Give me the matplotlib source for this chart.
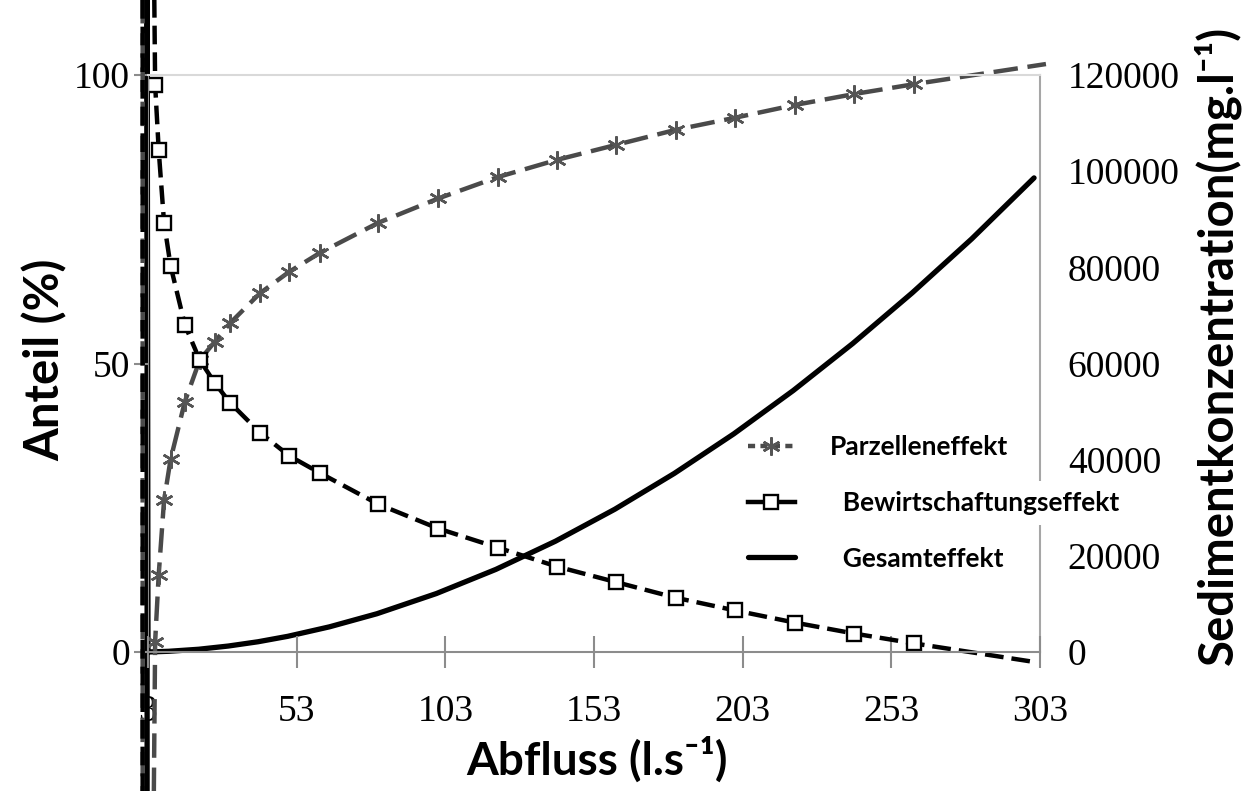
import matplotlib
matplotlib.use("Agg")
import matplotlib.pyplot as plt
from matplotlib.lines import Line2D

plt.rcParams['font.family'] = ['Liberation Serif', 'DejaVu Serif']
sans = ['Lato', 'DejaVu Sans']

# measured points (Abfluss in l/s)
x_pts = [5.4, 6.6, 8.4, 10.6, 15.4, 20.4, 25.5, 30.6, 40.7, 50.5, 60.9,
         80.5, 100.6, 120.6, 140.6, 160.5, 180.5, 200.5, 220.5, 240.5, 260.5]
parz_y = [1.8, 13.4, 26.3, 33.4, 43.4, 50.6, 53.8, 57.0, 62.2, 65.9, 69.2,
          74.4, 78.6, 82.3, 85.3, 87.9, 90.5, 92.6, 94.8, 96.7, 98.4]
bew_y = [98.3, 87.0, 74.4, 66.9, 56.7, 50.6, 46.6, 43.2, 38.0, 34.0, 31.0,
         25.6, 21.4, 18.1, 14.8, 12.1, 9.4, 7.2, 5.1, 3.2, 1.5]

# trend lines as drawn in the original (they shoot off near x = 3)
parz_line_x = [1.2, 1.2, 4.7] + x_pts + [305]
parz_line_y = [130, -40, -40] + parz_y + [101.9]
bew_line_x = [1.2, 1.2, 4.8] + x_pts + [302]
bew_line_y = [-40, 130, 130] + bew_y + [-1.8]

# Gesamteffekt, right axis (mg/l)
ges_x = [2.7, 2.7, 3, 10, 20, 30, 40, 50, 64, 80, 100, 120, 140, 160, 180,
         200, 220, 240, 260, 280, 301]
ges_y = [-50000, 150000, 0, 150, 570, 1240, 2130, 3260, 5230, 7960, 12160,
         17180, 23030, 29690, 37140, 45360, 54370, 64150, 74680, 85900, 98600]

x_ticks = [3, 53, 103, 153, 203, 253, 303]

W, H = 1249, 791
fig = plt.figure(figsize=(W / 100, H / 100), dpi=100)
ax = fig.add_axes([148 / W, 1 - 652 / H, (1040 - 148) / W, (652 - 75) / H])
ax2 = ax.twinx()
ax.set_zorder(ax2.get_zorder() + 1)
ax.patch.set_visible(False)

gray = '#4a4a4a'
ax2.plot(ges_x, ges_y, color='black', lw=3.8, clip_on=False, solid_capstyle='round')

ax.plot(parz_line_x, parz_line_y, color=gray, lw=3.2, dashes=(5.5, 2.2), clip_on=False)
ax.plot(x_pts, parz_y, ls='none', marker=(6, 2, 0), ms=13, mec='#555555', mew=1.8)
ax.plot(bew_line_x, bew_line_y, color='black', lw=3.2, dashes=(4.2, 1.8), clip_on=False)
ax.plot(x_pts, bew_y, ls='none', marker='s', ms=10, mfc='white', mec='black', mew=1.7)

ax.set_xlim(3, 303)
ax.set_ylim(0, 100)
ax2.set_ylim(0, 120000)
ax.set_xticks(x_ticks)
ax.set_yticks([0, 50, 100])
ax2.set_yticks(range(0, 120001, 20000))

for s in ['left', 'top', 'right', 'bottom']:
    ax2.spines[s].set_visible(False)
ax2.spines['right'].set_visible(True)
ax2.spines['right'].set_color('#a6a6a6')
ax2.spines['right'].set_linewidth(1.5)
ax.spines['right'].set_visible(False)
ax.spines['top'].set_color('#d9d9d9')
ax.spines['top'].set_linewidth(1.5)
ax.spines['bottom'].set_color('#8c8c8c')
ax.spines['bottom'].set_linewidth(1.5)
ax.spines['left'].set_color('#8c8c8c')

ax.tick_params(axis='x', direction='inout', length=23, width=1.5, color='#8c8c8c',
               pad=19, labelsize=27)
ax.tick_params(axis='y', direction='out', length=10, width=1.5, color='#8c8c8c',
               pad=3, labelsize=27)
ax2.tick_params(axis='y', length=0, pad=20, labelsize=27)

fig.text(597 / W, 1 - 760 / H, 'Abfluss (l.s⁻¹)', family=sans, weight='bold',
         fontsize=33, ha='center', va='center')
fig.text(45 / W, 1 - 360 / H, 'Anteil (%)', family=sans, weight='bold',
         fontsize=34, rotation=90, ha='center', va='center')
fig.text(1217 / W, 1 - 345 / H, 'Sedimentkonzentration(mg.l⁻¹)', family=sans,
         weight='bold', fontsize=34, rotation=90, ha='center', va='center',
         bbox=dict(facecolor='white', edgecolor='none', pad=6))

handles = [
    Line2D([], [], color=gray, lw=3.2, dashes=(1.6, 1.2), marker=(6, 2, 0), ms=13,
           mec='#555555', mew=1.8),
    Line2D([], [], color='black', lw=3.2, marker='s', ms=10, mfc='white', mec='black', mew=1.7),
    Line2D([], [], color='black', lw=3.8, solid_capstyle='round'),
]
labels = ['Parzelleneffekt', '  Bewirtschaftungseffekt', '  Gesamteffekt']
leg = ax.legend(handles, labels, loc='center left', bbox_to_anchor=(748 / W, 1 - 503 / H),
                bbox_transform=fig.transFigure, frameon=False, borderpad=0,
                borderaxespad=0, handlelength=1.78, handletextpad=1.33,
                labelspacing=1.2, prop=dict(family=sans, weight='bold', size=19))
for t in leg.get_texts():
    t.set_bbox(dict(facecolor='white', edgecolor='none', pad=7))

fig.savefig('out.png', dpi=100)
